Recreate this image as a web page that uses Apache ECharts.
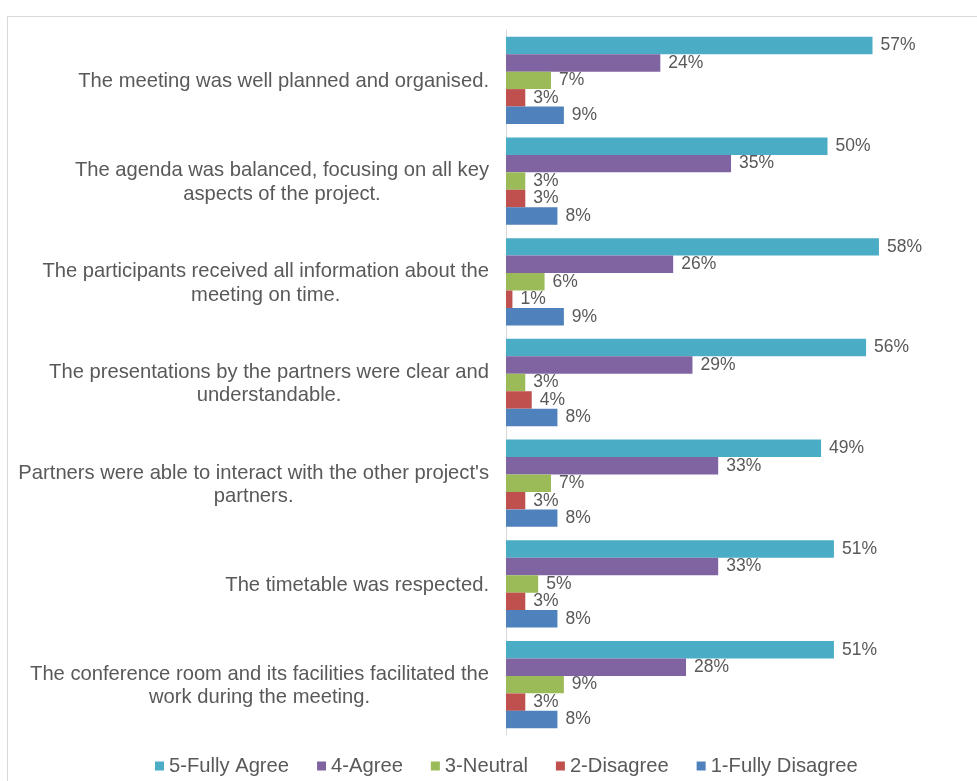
<!DOCTYPE html>
<html>
<head>
<meta charset="utf-8">
<script src="https://cdn.jsdelivr.net/npm/echarts@6/dist/echarts.min.js"></script>
<style>html,body{margin:0;padding:0;background:#fff;}#c{width:977px;height:781px;}</style>
</head>
<body>
<div id="c"></div>
<script>
const categories = [
  "The meeting was well planned and organised.",
  "The agenda was balanced, focusing on all key\naspects of the project.",
  "The participants received all information about the\nmeeting on time.",
  "The presentations by the partners were clear and\nunderstandable.",
  "Partners were able to interact with the other project's\npartners.",
  "The timetable was respected.",
  "The conference room and its facilities facilitated the\nwork during the meeting."
];
const seriesNames = ["5-Fully Agree", "4-Agree", "3-Neutral", "2-Disagree", "1-Fully Disagree"];
const fullyAgree = [57, 50, 58, 56, 49, 51, 51];
const agree = [24, 35, 26, 29, 33, 33, 28];
const neutral = [7, 3, 6, 3, 7, 5, 9];
const disagree = [3, 3, 1, 4, 3, 3, 3];
const fullyDisagree = [9, 8, 9, 8, 8, 8, 8];
const seriesValues = [fullyAgree, agree, neutral, disagree, fullyDisagree];
const colors = ["#4BACC6", "#8064A2", "#9BBB59", "#C0504D", "#4F81BD"];

const FONT = "'Liberation Sans', Arial, sans-serif";
const FS = 20.2;
const chart = echarts.init(document.getElementById('c'), null, {renderer: 'canvas'});
chart.setOption({
  backgroundColor: '#ffffff',
  animation: false,
  color: colors,
  graphic: [{
    type: 'rect', left: 5, top: 14, z: -1,
    shape: {x: 0, y: 0, width: 1000, height: 800},
    style: {fill: 'none', stroke: '#d9d9d9', lineWidth: 1}
  }],
  legend: {
    left: 150, top: 751,
    icon: 'rect', itemWidth: 9, itemHeight: 9, itemGap: 28,
    textStyle: {fontSize: FS, color: '#595959', fontFamily: FONT},
    data: seriesNames
  },
  grid: {left: 506, top: 30, height: 705, right: 20.9},
  xAxis: {
    type: 'value', min: 0, max: 70, show: false
  },
  yAxis: {
    type: 'category', inverse: true, data: categories,
    axisLine: {show: true, lineStyle: {color: '#d9d9d9', width: 1}},
    axisTick: {show: false},
    axisLabel: {
      margin: 17, align: 'right',
      fontFamily: FONT, fontSize: FS, color: '#595959', lineHeight: 23.5,
      formatter: function (v) {
        return v.split('\n').map(function (s) { return '{c|' + s + '}'; }).join('\n');
      },
      rich: {c: {align: 'center', fontFamily: FONT, fontSize: FS, color: '#595959', lineHeight: 23.5, padding: [3, 0, 0, 0]}}
    }
  },
  series: seriesNames.map(function (name, i) {
    return {
      name: name, type: 'bar',
      data: seriesValues[i],
      barGap: '0%', barCategoryGap: '13.3%',
      itemStyle: {color: colors[i]},
      label: {
        show: true, position: 'right', distance: 8,
        formatter: '{c}%',
        fontFamily: FONT, fontSize: 17.5, color: '#595959'
      }
    };
  })
});
</script>
</body>
</html>
